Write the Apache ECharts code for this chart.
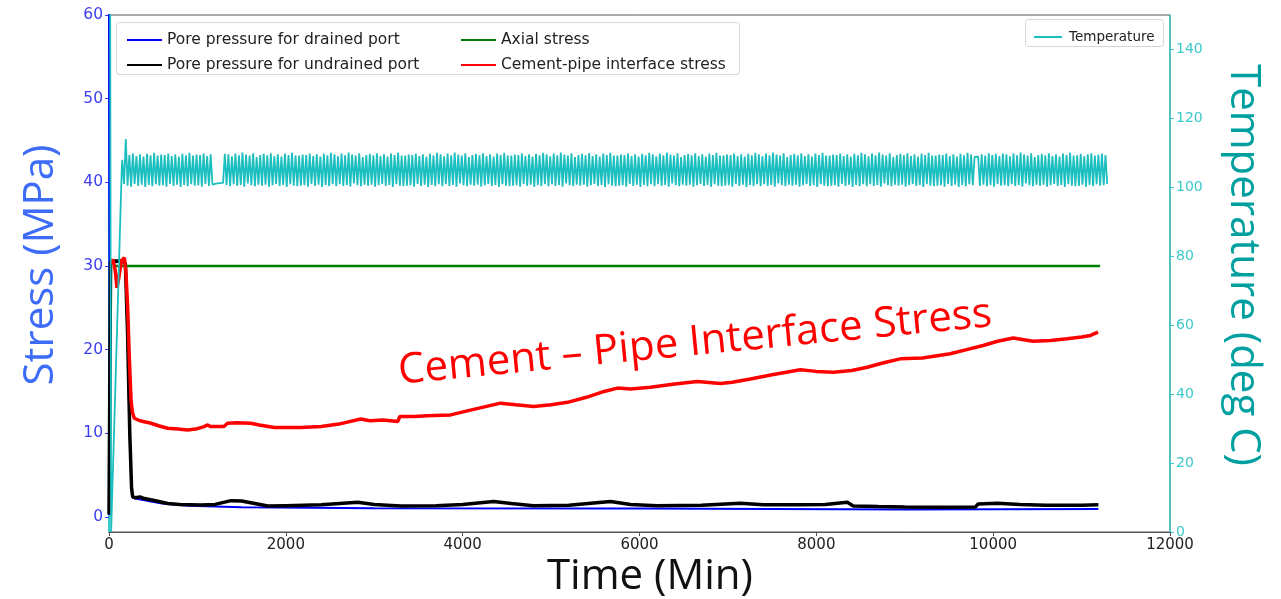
<!DOCTYPE html>
<html><head><meta charset="utf-8">
<script src="https://cdn.jsdelivr.net/npm/echarts@6/dist/echarts.min.js"></script>
<style>html,body{margin:0;padding:0;background:#fff}#c{width:1281px;height:599px}</style>
</head><body><div id="c"></div>
<script>
// ---- tick labels ----
const xTicks = [0, 2000, 4000, 6000, 8000, 10000, 12000];
const stressTicks = [0, 10, 20, 30, 40, 50, 60];
const tempTicks = [0, 20, 40, 60, 80, 100, 120, 140];

// ---- series: [time (min), value] ----
const drained = [[0,62],[8,0.2],[14,0.2],[20,30.4],[150,30.5],[185,30.2],[210,21],[235,9],[255,3.2],[268,2.3],[300,2.2],[400,2.0],[600,1.6],[900,1.35],[1500,1.15],[3000,1.05],[6000,1.0],[9000,0.9],[11190,0.95]];

const undrained = [[0,0.3],[12,0.3],[18,30.5],[60,30.6],[150,30.6],[185,30.3],[210,22],[235,10],[255,3.5],[268,2.4],[300,2.3],[350,2.4],[400,2.2],[500,2.0],[663,1.6],[800,1.5],[1040,1.43],[1200,1.5],[1380,1.95],[1500,1.9],[1797,1.3],[2000,1.35],[2400,1.45],[2813,1.75],[3000,1.5],[3300,1.3],[3700,1.35],[4000,1.5],[4350,1.85],[4550,1.6],[4800,1.35],[5200,1.4],[5672,1.85],[5900,1.5],[6200,1.35],[6700,1.4],[7141,1.65],[7400,1.45],[7800,1.45],[8100,1.5],[8350,1.75],[8418,1.3],[8700,1.25],[9000,1.2],[9400,1.15],[9800,1.2],[9830,1.55],[10050,1.65],[10300,1.5],[10600,1.4],[11000,1.4],[11190,1.45]];

const axial = [[60,30],[1150,30],[1300,30],[11210,30]];

const cement = [[30,30.2],[45,30.8],[70,29.5],[90,27.4],[110,28.5],[140,30.6],[173,31.0],[190,29.5],[211,25.1],[230,19],[249,14.0],[265,12.5],[286,11.8],[350,11.5],[475,11.2],[560,10.9],[663,10.6],[780,10.5],[889,10.4],[980,10.5],[1075,10.8],[1115,11.0],[1150,10.8],[1300,10.8],[1340,11.2],[1450,11.25],[1605,11.2],[1700,11.0],[1870,10.7],[2000,10.7],[2169,10.7],[2400,10.8],[2600,11.1],[2847,11.7],[2950,11.5],[3100,11.6],[3265,11.4],[3290,12.0],[3450,12.0],[3600,12.1],[3864,12.2],[4100,12.8],[4429,13.6],[4600,13.4],[4802,13.2],[5000,13.4],[5186,13.7],[5400,14.3],[5600,15.0],[5751,15.4],[5900,15.3],[6124,15.5],[6400,15.9],[6655,16.2],[6915,15.95],[7050,16.1],[7254,16.5],[7500,17.0],[7819,17.6],[8000,17.4],[8192,17.3],[8400,17.5],[8576,17.9],[8750,18.4],[8949,18.9],[9200,19.0],[9514,19.5],[9700,20.0],[9887,20.5],[10050,21.0],[10226,21.4],[10452,21.0],[10650,21.1],[10836,21.3],[11000,21.5],[11100,21.7],[11186,22.1]];

// temperature: lead-in points, then readings every tempStep minutes from tempStart
const tempLeadIn = [[12,170],[24,0],[145,106]];
const tempStart = 150;
const tempStep = 20;
const tempValues = [
108.0,101.0,114.0,100.5,109.4,100.2,109.8,101.0,109.1,100.4,109.6,100.8,108.9,100.1,109.7,100.7,109.3,100.3,110.0,100.9,
109.2,100.5,109.5,100.6,109.4,100.2,109.8,101.0,109.1,100.4,109.6,100.8,108.9,100.1,109.7,100.7,109.3,100.3,110.0,100.9,
109.2,100.5,109.5,100.6,109.4,100.2,109.8,101.0,109.1,100.4,109.6,100.8,101.0,101.1,101.1,101.2,101.2,101.3,109.7,100.7,
109.6,100.3,109.0,100.9,109.8,100.4,109.3,100.7,110.1,100.2,109.5,101.1,109.2,100.6,109.9,100.3,108.8,100.8,109.4,100.5,
109.7,100.8,109.3,100.2,109.9,100.6,109.1,101.0,109.6,100.4,108.9,100.7,109.8,100.1,109.4,100.9,110.0,100.5,109.2,100.3,
109.2,100.5,109.5,100.6,109.4,100.2,109.8,101.0,109.1,100.4,109.6,100.8,108.9,100.1,109.7,100.7,109.3,100.3,110.0,100.9,
109.6,100.3,109.0,100.9,109.8,100.4,109.3,100.7,110.1,100.2,109.5,101.1,109.2,100.6,109.9,100.3,108.8,100.8,109.4,100.5,
109.7,100.8,109.3,100.2,109.9,100.6,109.1,101.0,109.6,100.4,108.9,100.7,109.8,100.1,109.4,100.9,110.0,100.5,109.2,100.3,
109.2,100.5,109.5,100.6,109.4,100.2,109.8,101.0,109.1,100.4,109.6,100.8,108.9,100.1,109.7,100.7,109.3,100.3,110.0,100.9,
109.6,100.3,109.0,100.9,109.8,100.4,109.3,100.7,110.1,100.2,109.5,101.1,109.2,100.6,109.9,100.3,108.8,100.8,109.4,100.5,
109.7,100.8,109.3,100.2,109.9,100.6,109.1,101.0,109.6,100.4,108.9,100.7,109.8,100.1,109.4,100.9,110.0,100.5,109.2,100.3,
109.2,100.5,109.5,100.6,109.4,100.2,109.8,101.0,109.1,100.4,109.6,100.8,108.9,100.1,109.7,100.7,109.3,100.3,110.0,100.9,
109.6,100.3,109.0,100.9,109.8,100.4,109.3,100.7,110.1,100.2,109.5,101.1,109.2,100.6,109.9,100.3,108.8,100.8,109.4,100.5,
109.7,100.8,109.3,100.2,109.9,100.6,109.1,101.0,109.6,100.4,108.9,100.7,109.8,100.1,109.4,100.9,110.0,100.5,109.2,100.3,
109.2,100.5,109.5,100.6,109.4,100.2,109.8,101.0,109.1,100.4,109.6,100.8,108.9,100.1,109.7,100.7,109.3,100.3,110.0,100.9,
109.6,100.3,109.0,100.9,109.8,100.4,109.3,100.7,110.1,100.2,109.5,101.1,109.2,100.6,109.9,100.3,108.8,100.8,109.4,100.5,
109.7,100.8,109.3,100.2,109.9,100.6,109.1,101.0,109.6,100.4,108.9,100.7,109.8,100.1,109.4,100.9,110.0,100.5,109.2,100.3,
109.2,100.5,109.5,100.6,109.4,100.2,109.8,101.0,109.1,100.4,109.6,100.8,108.9,100.1,109.7,100.7,109.3,100.3,110.0,100.9,
109.6,100.3,109.0,100.9,109.8,100.4,109.3,100.7,110.1,100.2,109.5,101.1,109.2,100.6,109.9,100.3,108.8,100.8,109.4,100.5,
109.7,100.8,109.3,100.2,109.9,100.6,109.1,101.0,109.6,100.4,108.9,100.7,109.8,100.1,109.4,100.9,110.0,100.5,109.2,100.3,
109.2,100.5,109.5,100.6,109.4,100.2,109.8,101.0,109.1,100.4,109.6,100.8,108.9,100.1,109.7,100.7,109.3,100.3,110.0,100.9,
109.6,100.3,109.0,100.9,109.8,100.4,109.3,100.7,110.1,100.2,109.5,101.1,109.2,100.6,109.9,100.3,108.8,100.8,109.4,100.5,
109.7,100.8,109.3,100.2,109.9,100.6,109.1,101.0,109.6,100.4,108.9,100.7,109.8,100.1,109.4,100.9,110.0,100.5,109.2,100.3,
109.2,100.5,109.5,100.6,109.4,100.2,109.8,101.0,109.1,100.4,109.6,100.8,108.9,100.1,109.7,100.7,109.3,100.3,110.0,100.9,
109.5,100.6,108.8,108.6,108.9,100.4,109.6,100.8,109.2,100.3,109.9,100.7,109.4,100.2,109.7,101.0,109.1,100.5,109.8,100.6,
109.6,100.3,109.0,100.9,109.8,100.4,109.3,100.7,110.1,100.2,109.5,101.1,109.2,100.6,109.9,100.3,108.8,100.8,109.4,100.5,
109.7,100.8,109.3,100.2,109.9,100.6,109.1,101.0,109.6,100.4,108.9,100.7,109.8,100.1,109.4,100.9,110.0,100.5,109.2,100.3,
109.3,100.4,109.7,100.8,109.0,100.2,109.6,100.7,109.9,100.3,109.2,100.9,109.5,100.5,109.8,100.6,109.4,101.0
];

const seriesNames = ['Pore pressure for drained port','Pore pressure for undrained port','Axial stress','Cement-pipe interface stress','Temperature'];

const temperature = tempLeadIn.concat(tempValues.map((v, i) => [tempStart + i * tempStep, v]));

const chart = echarts.init(document.getElementById('c'), null, {renderer: 'canvas'});
const legendText = {fontFamily: 'DejaVu Sans', fontSize: 15.5, color: '#222', lineHeight: 18, padding: [0, 0, 0, 0]};

chart.setOption({
  animation: false,
  backgroundColor: '#fff',
  grid: {left: 109, right: 111, top: 15, bottom: 67, show: true, borderColor: '#555', borderWidth: 1, backgroundColor: 'transparent', outerBoundsMode: 'none'},
  xAxis: {
    type: 'value', min: xTicks[0], max: xTicks[xTicks.length - 1], interval: 2000,
    axisLine: {show: true, onZero: false, lineStyle: {color: '#555', width: 1}},
    axisTick: {show: true, inside: false, length: 4, lineStyle: {color: '#555'}},
    axisLabel: {color: '#222', fontFamily: 'DejaVu Sans', fontSize: 15, margin: 6, formatter: v => String(v)},
    splitLine: {show: false}
  },
  yAxis: [
    {
      type: 'value', min: -1.8, max: 60, position: 'left',
      axisLine: {show: true, onZero: false, lineStyle: {color: '#38c8c8', width: 2}},
      axisTick: {show: true, length: 4, customValues: stressTicks, lineStyle: {color: '#3b3bff'}},
      axisLabel: {customValues: stressTicks, color: '#3d3df2', fontFamily: 'DejaVu Sans', fontSize: 15.5, margin: 6},
      splitLine: {show: false}
    },
    {
      type: 'value', min: 0, max: 150, position: 'right',
      axisLine: {show: true, onZero: false, lineStyle: {color: '#38c8c8', width: 1.5}},
      axisTick: {show: true, length: 4, customValues: tempTicks, lineStyle: {color: '#38c8c8'}},
      axisLabel: {customValues: tempTicks, color: '#3cc9c9', fontFamily: 'DejaVu Sans', fontSize: 14, margin: 6},
      splitLine: {show: false}
    }
  ],
  legend: [
    {data: [seriesNames[0], seriesNames[1]], orient: 'vertical', left: 122, top: 26, itemWidth: 35, itemHeight: 2, itemGap: 7, icon: 'rect', selectedMode: false, textStyle: legendText, z: 10},
    {data: [seriesNames[2], seriesNames[3]], orient: 'vertical', left: 456, top: 26, itemWidth: 35, itemHeight: 2, itemGap: 7, icon: 'rect', selectedMode: false, textStyle: legendText, z: 10},
    {data: [seriesNames[4]], orient: 'vertical', left: 1029, top: 24, itemWidth: 28, itemHeight: 2, icon: 'rect', selectedMode: false, textStyle: {fontFamily: 'DejaVu Sans', fontSize: 13.5, color: '#222', lineHeight: 16, padding: [0, 0, 0, 2]}, z: 10}
  ],
  graphic: [
    {type: 'rect', z: 8, shape: {x: 116.5, y: 22.5, width: 623, height: 52, r: 3}, style: {fill: 'rgba(255,255,255,0.85)', stroke: '#d6d6d6', lineWidth: 1}},
    {type: 'rect', z: 8, shape: {x: 1025.5, y: 19.5, width: 138, height: 27, r: 3}, style: {fill: 'rgba(255,255,255,0.85)', stroke: '#d6d6d6', lineWidth: 1}},
    {type: 'text', z: 9, x: 41, y: 265, rotation: Math.PI / 2, style: {text: 'Stress (MPa)', fontFamily: 'Open Sans', fontSize: 42, fill: '#3d6cf8', align: 'center', verticalAlign: 'middle', textAlign: 'center', textVerticalAlign: 'middle'}},
    {type: 'text', z: 9, x: 1243, y: 265, rotation: -Math.PI / 2, style: {text: 'Temperature (deg C)', fontFamily: 'Open Sans', fontSize: 42, fill: '#00a0a0', align: 'center', verticalAlign: 'middle', textAlign: 'center', textVerticalAlign: 'middle'}},
    {type: 'text', z: 9, x: 650, y: 577, style: {text: 'Time (Min)', fontFamily: 'Open Sans', fontSize: 42, fill: '#111', align: 'center', verticalAlign: 'middle', textAlign: 'center', textVerticalAlign: 'middle'}},
    {type: 'text', z: 9, x: 695, y: 343, rotation: 0.097, style: {text: 'Cement \u2013 Pipe Interface Stress', fontFamily: 'Open Sans', fontSize: 42, fill: '#ff0000', align: 'center', verticalAlign: 'middle', textAlign: 'center', textVerticalAlign: 'middle'}}
  ],
  series: [
    {name: seriesNames[0], type: 'line', data: drained, showSymbol: false, yAxisIndex: 0, clip: true, lineStyle: {color: '#0000ff', width: 2}, itemStyle: {color: '#0000ff'}},
    {name: seriesNames[1], type: 'line', data: undrained, showSymbol: false, yAxisIndex: 0, clip: true, lineStyle: {color: '#000000', width: 3.5}, itemStyle: {color: '#000000'}},
    {name: seriesNames[2], type: 'line', data: axial, showSymbol: false, yAxisIndex: 0, clip: true, lineStyle: {color: '#008000', width: 2.5}, itemStyle: {color: '#008000'}},
    {name: seriesNames[3], type: 'line', data: cement, showSymbol: false, yAxisIndex: 0, clip: true, lineStyle: {color: '#ff0000', width: 3.5}, itemStyle: {color: '#ff0000'}},
    {name: seriesNames[4], type: 'line', data: temperature, showSymbol: false, yAxisIndex: 1, clip: true, lineStyle: {color: '#1cbfbf', width: 1.8}, itemStyle: {color: '#1cbfbf'}}
  ]
});
</script>
</body></html>
